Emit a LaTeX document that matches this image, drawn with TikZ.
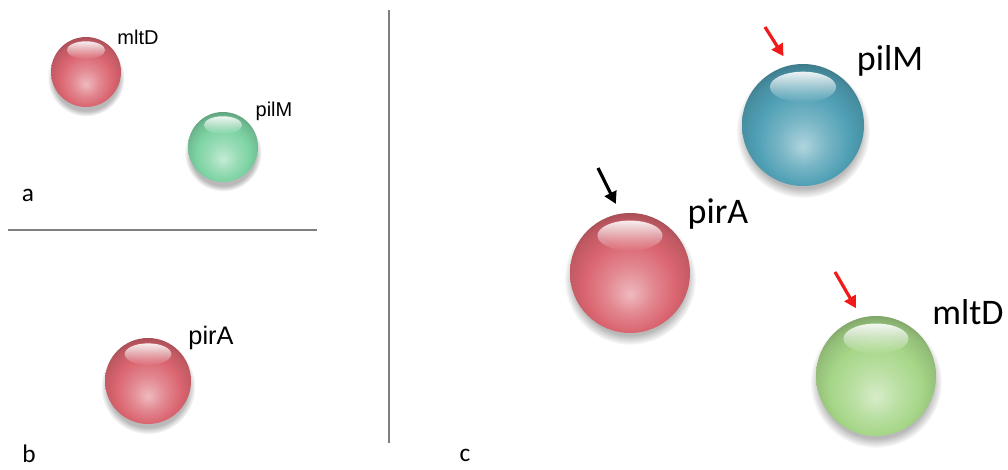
\documentclass[tikz,border=0pt]{standalone}
\usepackage{fontspec}
\setmainfont{Carlito}
\newfontfamily\arialfont{Liberation Sans}
\usetikzlibrary{arrows.meta,positioning,calc,shadows,fadings}
\definecolor{orbRed}{HTML}{DA6570}
\definecolor{orbMint}{HTML}{7DD3A3}
\definecolor{orbTeal}{HTML}{50A0B5}
\definecolor{orbLime}{HTML}{A6D688}
\definecolor{arrRed}{HTML}{F01A1A}
\definecolor{ruleGray}{HTML}{7F7F7F}

% glossy sphere shading, glow below the centre
\makeatletter
\pgfdeclareradialshading[tikz@ball]{glossy}{\pgfpoint{0bp}{-9bp}}{%
  color(0bp)=(tikz@ball!45!white);
  color(10bp)=(tikz@ball!78!white);
  color(19bp)=(tikz@ball);
  color(26bp)=(tikz@ball!88!black);
  color(33bp)=(tikz@ball!62!black);
  color(50bp)=(tikz@ball!50!black)}
\tikzset{orb color/.code={\colorlet{tikz@ball}{#1}\tikzset{shading=glossy}}}
\makeatother

\begin{document}
\begin{tikzpicture}[x=0.75pt, y=-0.75pt,
    orb/.style 2 args={circle, inner sep=0pt, minimum size=#2, orb color=#1,
      circular drop shadow={shadow xshift=0pt, shadow yshift=-4pt, opacity=.55}},
    lbl/.style={font=\arialfont\fontsize{15}{15}\selectfont, inner sep=0pt},
    biglbl/.style={font=\fontsize{27}{27}\selectfont, inner sep=0pt},
    panel/.style={font=\fontsize{19}{19}\selectfont, inner sep=0pt},
    sep/.style={draw=ruleGray, line width=1pt},
    arr/.style={-{Triangle[length=9pt,width=9.5pt]}, line width=2.4pt, shorten >=8pt}]
  \useasboundingbox (0,0) rectangle (1008,470);

  % panel a
  \node[orb={orbRed}{52.5pt}] (mltA) at (86,72) {};
  \node[orb={orbMint}{52.5pt}] (pilA) at (223,147) {};
  \node[lbl] (mltAlbl) at (138,37) {mltD};
  \node[lbl] (pilAlbl) at (274,111) {pilM};
  \node[panel] (pa) at (28,195) {a};

  % panel b
  \node[orb={orbRed}{64.5pt}] (pirB) at (148,381) {};
  \node[lbl, font=\arialfont\fontsize{19}{19}\selectfont] (pirBlbl) at (211,338) {pirA};
  \node[panel] (pb) at (29,454) {b};

  % panel c
  \node[orb={orbRed}{90pt}] (pirC) at (630,273) {};
  \node[orb={orbTeal}{91.5pt}] (pilC) at (803,125) {};
  \node[orb={orbLime}{90pt}] (mltC) at (876,376) {};
  \node[biglbl] (pirClbl) at (718,214) {pirA};
  \node[biglbl] (pilClbl) at (890,61) {pilM};
  \node[biglbl] (mltClbl) at (968,312) {mltD};
  \node[panel] (pc) at (465,455) {c};

  % shine on top of every sphere
  \foreach \s in {mltA,pilA,pirB,pirC,pilC,mltC}
    \fill[white, path fading=south, fill opacity=.9]
      let \p1=($(\s.north)-(\s.center)$), \n1={veclen(\x1,\y1)} in
      ($(\s.center)!0.62!(\s.north)$) ellipse [x radius=0.54*\n1, y radius=0.25*\n1];

  % separators
  \coordinate (hl) at (8,230);
  \coordinate (hr) at (317,230);
  \coordinate (vt) at (389,10);
  \coordinate (vb) at (389,443);
  \draw[sep] (hl) -- (hr);
  \draw[sep] (vt) -- (vb);

  % pointers
  \coordinate (kA) at (598,168);
  \coordinate (kB) at (765,27);
  \coordinate (kC) at (835,272);
  \draw[arr, black] (kA) -- (pirC.99);
  \draw[arr, arrRed] (kB) -- (pilC.103);
  \draw[arr, arrRed] (kC) -- (mltC.104);
\end{tikzpicture}
\end{document}
